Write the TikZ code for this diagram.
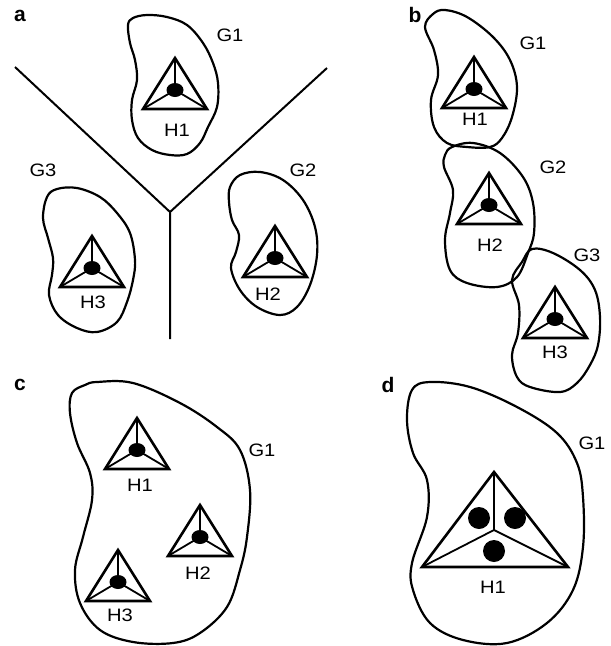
\documentclass[tikz,border=0pt]{standalone}
\usepackage{fontspec}
\setmainfont{Liberation Sans}
\newcommand{\hubtri}[3]{%
  \coordinate (#1-a) at ({#2},{#3});
  \coordinate (#1-l) at ({#2-32},{#3+51});
  \coordinate (#1-r) at ({#2+32},{#3+51});
  \coordinate (#1-c) at ({#2},{#3+32});
  \draw[spoke] (#1-a) -- (#1-c) -- (#1-l) (#1-c) -- (#1-r);
  \draw[tri] (#1-a) -- (#1-l) -- (#1-r) -- cycle;
  \fill (#1-c) ellipse [x radius=8.5, y radius=7];
}
\begin{document}
\begin{tikzpicture}[x=1pt,y=-1pt,
  bean/.style={line width=2.2pt, line join=round},
  tri/.style={line width=2.6pt, line join=miter},
  spoke/.style={line width=1.8pt},
  wall/.style={line width=2pt},
  lbl/.style={font=\fontsize{18}{20}\selectfont, inner sep=0pt, xscale=1.12, transform shape},
  panel/.style={font=\fontsize{21}{23}\selectfont\bfseries, inner sep=0pt}]
\useasboundingbox (0,0) rectangle (611,646);

% ---------- panel a ----------
\node[panel] (pa) at (20,16) {a};
\draw[bean] plot[smooth cycle, tension=0.6] coordinates {(128,25) (133,18) (147,15) (167,17) (187,25) (203,43) (213,63) (218,83) (217,107) (208,127) (200,143) (187,154) (170,155) (152,150) (138,138) (132,120) (132,100) (137,80) (135,60) (130,43)};
\draw[bean] plot[smooth cycle, tension=0.6] coordinates {(47,197) (57,189) (77,188) (100,197) (117,213) (130,233) (135,260) (133,280) (127,302) (117,322) (97,332) (77,328) (58,315) (49,295) (52,275) (53,258) (48,238) (43,218)};
\draw[bean] plot[smooth cycle, tension=0.6] coordinates {(230,187) (240,175) (260,172) (283,180) (303,200) (315,227) (317,255) (310,285) (297,307) (280,315) (257,307) (240,290) (231,268) (236,252) (239,235) (232,220) (229,202)};
\coordinate (j) at (170,212);
\coordinate (w1) at (15,67);
\coordinate (w2) at (327,68);
\coordinate (w3) at (170,339);
\draw[wall] (w1) -- (j) -- (w2) (j) -- (w3);
\hubtri{a1}{175}{58}
\hubtri{a3}{92}{236}
\hubtri{a2}{275}{226}
\node[lbl] (aG1) at (230,35) {G1};
\node[lbl] (aG3) at (43,170) {G3};
\node[lbl] (aG2) at (303,170) {G2};
\node[lbl] (aH1) at (177,130) {H1};
\node[lbl] (aH3) at (93,302) {H3};
\node[lbl] (aH2) at (268,294) {H2};

% ---------- panel b ----------
\node[panel] (pb) at (415,15) {b};
\draw[bean] plot[smooth cycle, tension=0.6] coordinates {(425,27) (433,14) (445,10) (467,17) (493,37) (510,60) (517,87) (512,117) (502,138) (490,147) (467,147) (447,143) (434,127) (431,100) (438,75) (434,50)};
\draw[bean] plot[smooth cycle, tension=0.6] coordinates {(445,155) (452,147) (473,143) (500,153) (523,177) (533,203) (534,233) (528,253) (517,277) (497,287) (467,283) (450,270) (445,240) (450,213) (453,190) (444,167)};
\draw[bean] plot[smooth cycle, tension=0.6] coordinates {(512,280) (522,262) (532,249) (553,253) (580,270) (595,290) (600,317) (598,345) (590,365) (577,383) (560,392) (530,387) (517,377) (512,355) (518,333) (519,305)};
\hubtri{b1}{474}{57}
\hubtri{b2}{489}{173}
\hubtri{b3}{555}{287}
\node[lbl] (bG1) at (533,43) {G1};
\node[lbl] (bG2) at (553,167) {G2};
\node[lbl] (bG3) at (587,255) {G3};
\node[lbl] (bH1) at (475,119) {H1};
\node[lbl] (bH2) at (490,245) {H2};
\node[lbl] (bH3) at (555,352) {H3};

% ---------- panel c ----------
\node[panel] (pc) at (20,385) {c};
\draw[bean] plot[smooth cycle, tension=0.6] coordinates {(72,393) (85,385) (97,382) (133,383) (180,403) (217,427) (240,450) (250,490) (247,537) (240,570) (227,607) (200,633) (173,643) (133,642) (100,630) (80,603) (75,570) (83,537) (92,500) (90,473) (77,443) (70,413)};
\hubtri{c1}{137}{418}
\hubtri{c2}{200}{505}
\hubtri{c3}{118}{550}
\node[lbl] (cG1) at (262,450) {G1};
\node[lbl] (cH1) at (140,485) {H1};
\node[lbl] (cH2) at (198,573) {H2};
\node[lbl] (cH3) at (120,615) {H3};

% ---------- panel d ----------
\node[panel] (pd) at (388,385) {d};
\draw[bean] plot[smooth cycle, tension=0.6] coordinates {(412,390) (430,382) (470,387) (517,407) (557,433) (577,463) (583,497) (583,547) (573,590) (547,623) (507,643) (463,640) (430,623) (413,590) (412,563) (427,517) (427,480) (413,453) (407,420)};
\coordinate (d-a) at (494,472);
\coordinate (d-l) at (422,567);
\coordinate (d-r) at (568,567);
\coordinate (d-c) at (494,530);
\draw[spoke] (d-a) -- (d-c) -- (d-l) (d-c) -- (d-r);
\draw[tri] (d-a) -- (d-l) -- (d-r) -- cycle;
\fill (479,518) circle [radius=11];
\fill (515,518) circle [radius=11];
\fill (494,551) circle [radius=11];
\node[lbl] (dG1) at (592,443) {G1};
\node[lbl] (dH1) at (493,587) {H1};
\end{tikzpicture}
\end{document}
